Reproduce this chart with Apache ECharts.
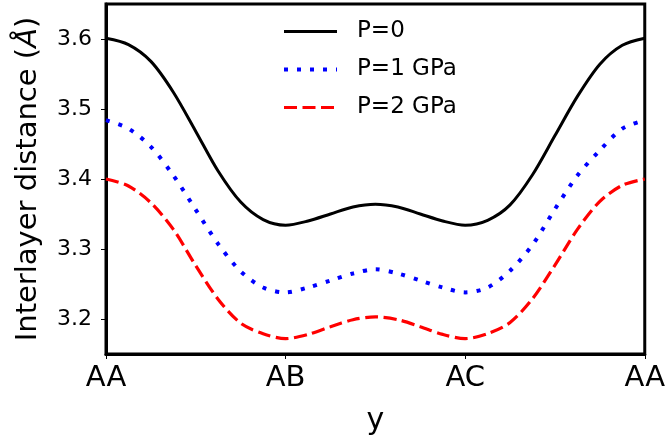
<!DOCTYPE html>
<html>
<head>
<meta charset="utf-8">
<script src="https://cdn.jsdelivr.net/npm/echarts@6/dist/echarts.min.js"></script>
<style>
html,body{margin:0;padding:0;background:#fff;}
#chart{width:668px;height:443px;}
</style>
</head>
<body>
<div id="chart"></div>
<script>
// positions along the path AA -> AB -> AC -> AA (AA=0, AB=1, AC=2, AA=3)
var xs = [0,0.125,0.25,0.375,0.5,0.625,0.75,0.875,1,1.125,1.25,1.375,1.5,1.625,1.75,1.875,2,2.125,2.25,2.375,2.5,2.625,2.75,2.875,3];
var xTickLabels = ['AA','AB','AC','AA'];
var yTicks = [3.2,3.3,3.4,3.5,3.6];
var seriesNames = ['P=0','P=1 GPa','P=2 GPa'];
var yP0 = [3.601,3.592,3.568,3.524,3.468,3.411,3.367,3.342,3.334,3.340,3.350,3.360,3.364,3.360,3.350,3.340,3.334,3.341,3.363,3.406,3.462,3.518,3.564,3.591,3.601];
var yP1 = [3.484,3.472,3.446,3.405,3.356,3.307,3.268,3.245,3.238,3.245,3.255,3.265,3.271,3.265,3.255,3.245,3.238,3.245,3.269,3.306,3.357,3.405,3.441,3.472,3.484];
var yP2 = [3.400,3.390,3.366,3.328,3.276,3.228,3.194,3.179,3.172,3.178,3.189,3.199,3.203,3.199,3.189,3.178,3.172,3.179,3.195,3.229,3.277,3.328,3.368,3.391,3.400];

function pairs(ys){ return xs.map(function(x,i){ return [x, ys[i]]; }); }

var FONT = 'DejaVu Sans';
var lineStyles = [
  {color:'#000000', width:3, type:'solid'},
  {color:'#0000ff', width:4, type:[4,9], cap:'butt'},
  {color:'#ff0000', width:3.2, type:[13,5.5], cap:'butt'}
];
var chart = echarts.init(document.getElementById('chart'), null, {renderer:'canvas'});
chart.setOption({
  animation:false,
  backgroundColor:'#fff',
  textStyle:{fontFamily:FONT},
  grid:{left:106, right:22, top:4, bottom:89, show:true, borderColor:'#000', borderWidth:3, backgroundColor:'transparent'},
  legend:{
    orient:'vertical', left:277, top:15,
    itemWidth:53, itemHeight:14, itemGap:15,
    itemStyle:{color:'rgba(0,0,0,0)', borderColor:'rgba(0,0,0,0)', borderWidth:0, opacity:0},
    textStyle:{fontFamily:FONT, fontSize:23, color:'#000', padding:[0,0,0,15]},
    data:seriesNames.map(function(n,i){
      return {name:n, lineStyle:{width:lineStyles[i].width, type:lineStyles[i].type, color:lineStyles[i].color, cap:'butt'}};
    })
  },
  xAxis:{
    type:'value', min:0, max:3, interval:1,
    axisLine:{show:true, lineStyle:{color:'#000', width:3}},
    axisTick:{show:true, length:5, lineStyle:{color:'#000', width:1}},
    splitLine:{show:false},
    axisLabel:{fontFamily:FONT, fontSize:29, color:'#000', margin:10,
      formatter:function(v){ return xTickLabels[Math.round(v)]; }},
    name:'y', nameLocation:'middle', nameGap:52,
    nameTextStyle:{fontFamily:FONT, fontSize:30, color:'#000'}
  },
  yAxis:{
    type:'value', min:3.15, max:3.65,
    axisLine:{show:true, lineStyle:{color:'#000', width:3}},
    axisTick:{show:true, length:5, lineStyle:{color:'#000', width:1}, customValues:yTicks},
    splitLine:{show:false},
    axisLabel:{fontFamily:FONT, fontSize:22, color:'#000', margin:14, customValues:yTicks,
      formatter:function(v){ return v.toFixed(1); }},
    name:'Interlayer distance ({i|Å})', nameLocation:'middle', nameGap:63,
    nameTextStyle:{fontFamily:FONT, fontSize:29, color:'#000',
      rich:{i:{fontFamily:FONT, fontSize:29, fontStyle:'italic', color:'#000'}}}
  },
  series:[
    {name:seriesNames[0], type:'line', data:pairs(yP0), showSymbol:false, symbol:'none', smooth:0.3,
     lineStyle:lineStyles[0], itemStyle:{color:'#000000'}},
    {name:seriesNames[1], type:'line', data:pairs(yP1), showSymbol:false, symbol:'none', smooth:0.3,
     lineStyle:lineStyles[1], itemStyle:{color:'#0000ff'}},
    {name:seriesNames[2], type:'line', data:pairs(yP2), showSymbol:false, symbol:'none', smooth:0.3,
     lineStyle:lineStyles[2], itemStyle:{color:'#ff0000'}}
  ]
});
</script>
</body>
</html>
